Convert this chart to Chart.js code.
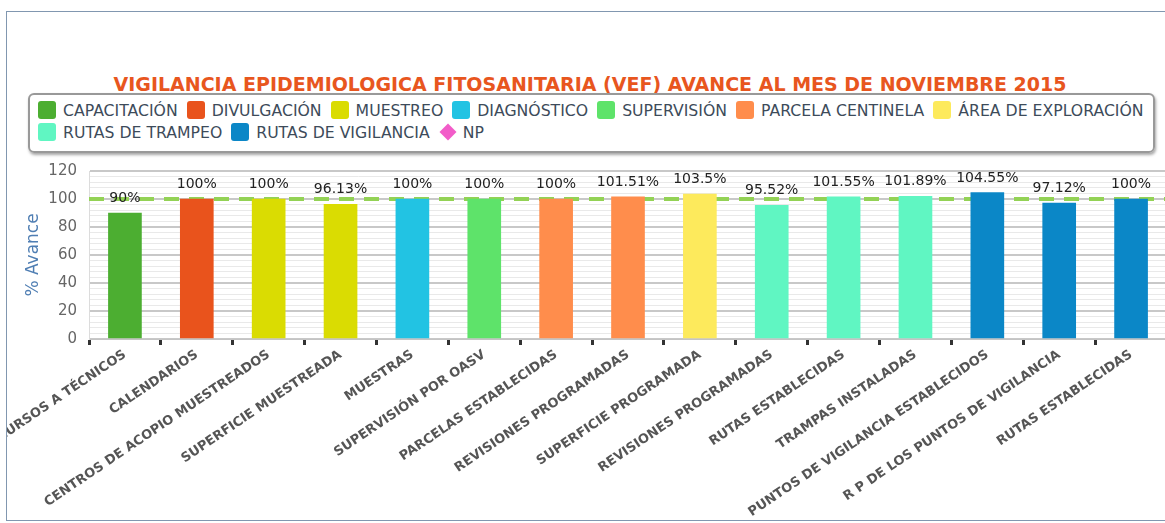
<!DOCTYPE html>
<html lang="es">
<head>
<meta charset="utf-8">
<title>VEF avance noviembre 2015</title>
<script src="https://cdn.jsdelivr.net/npm/chart.js@4.4.1/dist/chart.umd.min.js"></script>
<style>
  html, body { margin: 0; padding: 0; background: #fff; overflow: hidden; }
  body { width: 1165px; height: 523px; position: relative; font-family: "DejaVu Sans", Verdana, sans-serif; }
  #marco { position: absolute; left: 6px; top: 11px; width: 1200px; height: 508px; border: 1px solid #8197b0; pointer-events: none; }
  #titulo { position: absolute; left: 0; top: 73px; width: 1180px; text-align: center; font-size: 19px; font-weight: bold; color: #e8561e; line-height: 22px; }
  #leyenda { position: absolute; left: 28px; top: 93px; width: 1127px; height: 60px; box-sizing: border-box;
             border: 2px solid #999; border-radius: 6px; box-shadow: 1px 2px 3px rgba(0,0,0,0.35); padding: 4px 0 0 8px; }
  #leyenda ul { list-style: none; margin: 0; padding: 0; display: flex; flex-wrap: wrap; }
  #leyenda li { display: flex; align-items: center; height: 22px; margin-right: 9px; font-size: 15.7px; color: #3d4b5a; white-space: nowrap; }
  #leyenda .swatch { width: 18px; height: 18px; border-radius: 3px; margin-right: 7px; }
  #leyenda .diamante { width: 12px; height: 12px; margin: 0 9px 0 3px; transform: rotate(45deg); }
  #contenedor { position: absolute; left: 7px; top: 150px; width: 1160px; height: 370px; }
</style>
</head>
<body>
<div id="titulo">VIGILANCIA EPIDEMIOLOGICA FITOSANITARIA (VEF) AVANCE AL MES DE NOVIEMBRE 2015</div>
<div id="leyenda"></div>
<div id="contenedor"><canvas id="grafica"></canvas></div>
<div id="marco"></div>
<script>
// ===== datos =====
const categorias = [
  "CURSOS A TÉCNICOS", "CALENDARIOS", "CENTROS DE ACOPIO MUESTREADOS", "SUPERFICIE MUESTREADA",
  "MUESTRAS", "SUPERVISIÓN POR OASV", "PARCELAS ESTABLECIDAS", "REVISIONES PROGRAMADAS",
  "SUPERFICIE PROGRAMADA", "REVISIONES PROGRAMADAS", "RUTAS ESTABLECIDAS", "TRAMPAS INSTALADAS",
  "PUNTOS DE VIGILANCIA ESTABLECIDOS", "R P DE LOS PUNTOS DE VIGILANCIA", "RUTAS ESTABLECIDAS"
];
const avance = [90, 100, 100, 96.13, 100, 100, 100, 101.51, 103.5, 95.52, 101.55, 101.89, 104.55, 97.12, 100];
// a qué serie pertenece cada categoría
const serieDeCategoria = [0, 1, 2, 2, 3, 4, 5, 5, 6, 7, 7, 7, 8, 8, 8];
const series = [
  "CAPACITACIÓN", "DIVULGACIÓN", "MUESTREO", "DIAGNÓSTICO", "SUPERVISIÓN",
  "PARCELA CENTINELA", "ÁREA DE EXPLORACIÓN", "RUTAS DE TRAMPEO", "RUTAS DE VIGILANCIA"
];
const colores = ["#4cae31", "#e9531c", "#dadc02", "#22c3e3", "#5ee36a", "#ff8d4c", "#fdea5c", "#60f6c2", "#0b87c7"];
const serieNP = "NP";
const colorNP = "#f25cc9";
const meta = 100;
const yTicks = { min: 0, max: 120, paso: 20, pasoMenor: 4 };

Chart.defaults.font.family = '"DejaVu Sans", Verdana, sans-serif';

// leyenda en HTML
function pintarLeyenda() {
  const cont = document.getElementById("leyenda");
  const ul = document.createElement("ul");
  series.forEach((nombre, i) => {
    const li = document.createElement("li");
    const sw = document.createElement("span");
    sw.className = "swatch";
    sw.style.background = colores[i];
    li.appendChild(sw);
    li.appendChild(document.createTextNode(nombre));
    ul.appendChild(li);
  });
  const li = document.createElement("li");
  const d = document.createElement("span");
  d.className = "diamante";
  d.style.background = colorNP;
  li.appendChild(d);
  li.appendChild(document.createTextNode(serieNP));
  ul.appendChild(li);
  cont.appendChild(ul);
}

// línea punteada de la meta (detrás de las barras)
const lineaMeta = {
  id: "lineaMeta",
  beforeDatasetsDraw(chart) {
    const { ctx, chartArea, scales } = chart;
    const py = scales.y.getPixelForValue(meta);
    ctx.save();
    ctx.strokeStyle = "#93d255";
    ctx.lineWidth = 4;
    ctx.setLineDash([15, 10]);
    ctx.beginPath();
    ctx.moveTo(chartArea.left, py);
    ctx.lineTo(chartArea.right, py);
    ctx.stroke();
    ctx.restore();
  }
};

// etiquetas de valor sobre cada barra
const etiquetas = {
  id: "etiquetas",
  afterDatasetsDraw(chart) {
    const ctx = chart.ctx;
    ctx.save();
    ctx.font = '14px "DejaVu Sans"';
    ctx.fillStyle = "#222";
    ctx.textAlign = "center";
    ctx.textBaseline = "alphabetic";
    chart.data.datasets.forEach((ds, di) => {
      chart.getDatasetMeta(di).data.forEach((bar, i) => {
        const v = ds.data[i];
        if (v == null) return;
        ctx.fillText(v + "%", bar.x, bar.y - 11);
      });
    });
    ctx.restore();
  }
};

const datasets = series.map((nombre, s) => ({
  label: nombre,
  data: avance.map((v, i) => (serieDeCategoria[i] === s ? v : null)),
  backgroundColor: colores[s],
  barThickness: 33,
  skipNull: true
}));

pintarLeyenda();

new Chart(document.getElementById("grafica"), {
  type: "bar",
  data: { labels: categorias, datasets },
  plugins: [lineaMeta, etiquetas],
  options: {
    responsive: true,
    maintainAspectRatio: false,
    animation: false,
    layout: { padding: { top: 17, left: 0, right: 0, bottom: 0 } },
    plugins: { legend: { display: false }, tooltip: { enabled: false } },
    scales: {
      x: {
        ticks: { autoSkip: false, maxRotation: 34, minRotation: 34, color: "#555", font: { size: 13, weight: "bold" }, padding: 2 },
        grid: { drawOnChartArea: false, offset: true, tickLength: 6, tickColor: "#333", tickWidth: 3 },
        border: { color: "#c4c4c4" },
        afterFit(s) { s.height = 181; s.paddingLeft = 0; s.paddingRight = 0; }
      },
      y: {
        min: yTicks.min, max: yTicks.max,
        ticks: { stepSize: yTicks.paso, padding: 12, color: "#666", font: { size: 15 } },
        grid: { color: "#c8c8c8", lineWidth: 2, drawTicks: false },
        border: { color: "#dcdcdc" },
        title: { display: true, text: "% Avance", color: "#4f7eb3", font: { size: 17 }, padding: { top: 16, bottom: 0 } },
        afterFit(s) { s.width = 82; }
      },
      yMenor: {
        position: "left",
        min: yTicks.min, max: yTicks.max,
        ticks: { display: false, stepSize: yTicks.pasoMenor },
        grid: { color: c => (c.tick.value % yTicks.paso === 0 ? "rgba(0,0,0,0)" : "#e9e9e9"), lineWidth: 1, drawTicks: false },
        border: { display: false },
        afterFit(s) { s.width = 0; }
      }
    }
  }
});
</script>
</body>
</html>
